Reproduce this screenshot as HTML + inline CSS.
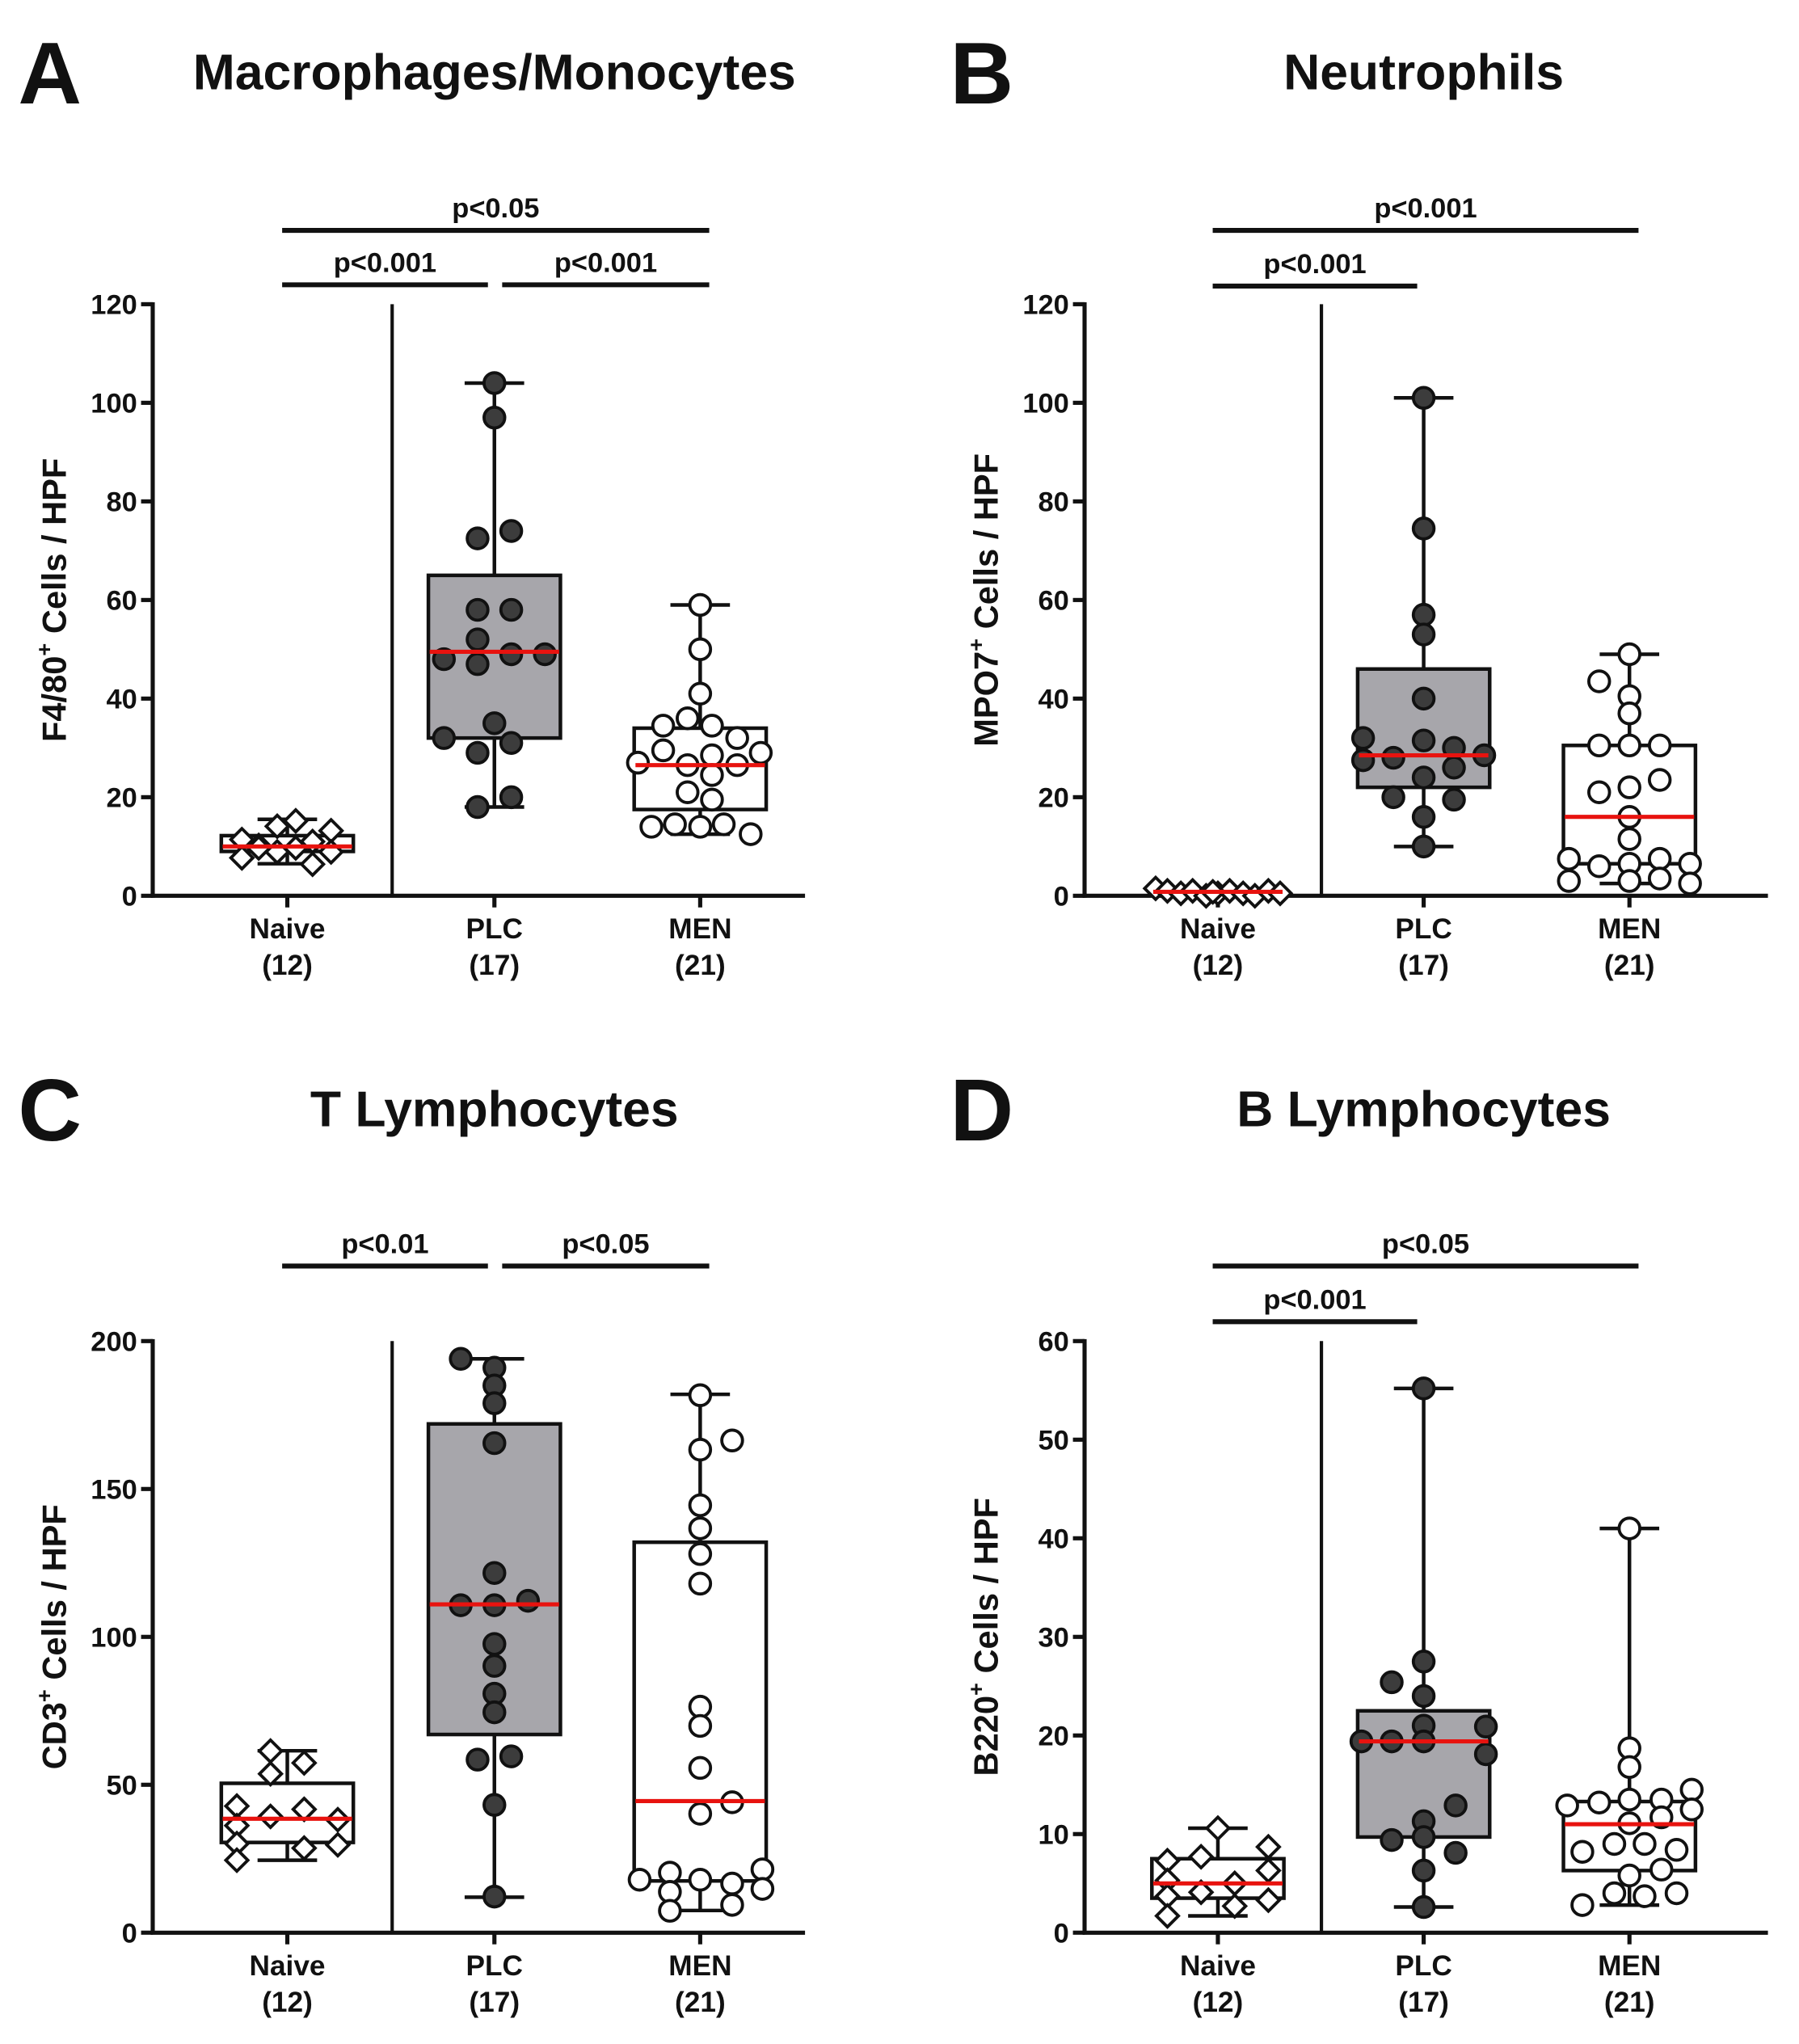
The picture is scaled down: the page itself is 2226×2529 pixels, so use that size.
<!DOCTYPE html>
<html><head><meta charset="utf-8"><style>
html,body{margin:0;padding:0;background:#fff}
svg{display:block}
text{font-family:"Liberation Sans",Arial,sans-serif;font-weight:bold;fill:#111}
</style></head><body>
<svg id="fig" width="2226" height="2529" viewBox="0 0 1390 1579" preserveAspectRatio="none" xmlns="http://www.w3.org/2000/svg"></svg>
<script>
// ---------- DATA ----------
const categories = ["Naive","PLC","MEN"];
const groupN = ["(12)","(17)","(21)"];
// Box stats [min,q1,median,q3,max] per group
const boxA = [[6.5,9,10,12.2,15.5],[18,32,49.5,65,104],[12.5,17.5,26.5,34,59]];
const boxB = [[0,0.3,0.8,1,1.5],[10,22,28.5,46,101],[2.5,6.5,16,30.5,49]];
const boxC = [[24.5,30.5,38.5,50.5,61.5],[12,67,111,172,194],[7.5,17.5,44.5,132,182]];
const boxD = [[1.7,3.5,5,7.5,10.6],[2.6,9.7,19.4,22.5,55.2],[2.8,6.3,11,13.3,41]];
// Points: values and jitter (in jitter units)
const aNaiveV = [15.2,14.1,13.2,11.4,10.2,11,9.7,8.9,8.9,7.7,6.4,9.7];
const aNaiveJ = [0.5,-0.6,2.6,-2.7,-1.7,1.5,0.5,-0.6,2.6,-2.7,1.5,-1.7];
const aPlcV = [104,97,74,72.5,58,58,52,49,49,48,47,35,32,31,29,20,18];
const aPlcJ = [0,0,1,-1,-1,1,-1,1,3,-3,-1,0,-3,1,-1,1,-1];
const aMenV = [59,50,41,36,34.5,34.5,32,29.5,29,28.5,27,26.5,26.5,24.5,21,19.5,14,14.5,14,14.5,12.5];
const aMenJ = [0,0,0,-0.75,-2.2,0.7,2.2,-2.2,3.6,0.7,-3.7,-0.75,2.2,0.7,-0.75,0.7,-2.9,-1.5,0,1.4,3];
const bNaiveV = [1.5,1,0.5,1,0,0.5,1,0.5,0,1,0.5,0.8];
const bNaiveJ = [-3.7,-3,-2.2,-1.5,-0.7,0,0.7,1.5,2.2,3,3.7,-0.3];
const bPlcV = [101,74.5,57,53,40,32,31.5,30,28,28.5,27.5,26,24,20,19.5,16,10];
const bPlcJ = [0,0,0,0,0,-3.6,0,1.8,-1.8,3.6,-3.6,1.8,0,-1.8,1.8,0,0];
const bMenV = [49,43.5,40.5,37,30.5,30.5,30.5,23.5,21,22,16,11.5,7.5,7.5,6,6.5,6.5,3,3,3.5,2.5];
const bMenJ = [0,-1.8,0,0,-1.8,0,1.8,1.8,-1.8,0,0,0,-3.6,1.8,-1.8,0,3.6,-3.6,0,1.8,3.6];
const cNaiveV = [61.4,53.7,57.4,42.8,39.3,41.7,38.2,36.2,30.1,28.6,29.7,24.5];
const cNaiveJ = [-1,-1,1,-3,-1,1,3,-3,-3,1,3,-3];
const cPlcV = [194,191,185,179,165.5,121.6,110.7,110.7,112.2,97.6,90.2,80.8,74.5,58.5,59.6,43.2,12.2];
const cPlcJ = [-2,0,0,0,0,0,-2,0,2,0,0,0,0,-1,1,0,0];
const cMenV = [181.7,163.3,166.4,144.5,136.7,128,118,76.4,69.9,55.7,44.1,40.2,17.9,20.3,17.9,16.6,21.4,13.8,14.8,7.4,9.4];
const cMenJ = [0,0,1.9,0,0,0,0,0,0,0,1.9,0,-3.6,-1.8,0,1.9,3.7,-1.8,3.7,-1.8,1.9];
const dNaiveV = [10.6,8.7,7.7,7.3,6.3,5,5.3,4.1,3.7,2.7,3.3,1.7];
const dNaiveJ = [0,3,-1,-3,3,1,-3,-1,-3,1,3,-3];
const dPlcV = [55.2,27.5,25.4,24,21,20.9,19.4,19.4,19.4,18.1,12.9,11.3,9.4,9.7,8.1,6.3,2.6];
const dPlcJ = [0,0,-1.9,0,0,3.7,-3.7,-1.9,0,3.7,1.9,0,-1.9,0,1.9,0,0];
const dMenV = [41,18.7,16.8,12.9,13.2,13.5,13.5,14.5,12.5,11.7,11.1,8.2,9,9,8.4,5.8,6.4,4,3.7,4,2.8];
const dMenJ = [0,0,0,-3.7,-1.8,0,1.9,3.7,3.7,1.9,0,-2.8,-0.9,0.9,2.8,0,1.9,-0.9,0.9,2.8,-2.8];
const ticksA = [0,20,40,60,80,100,120];
const ticksB = [0,20,40,60,80,100,120];
const ticksC = [0,50,100,150,200];
const ticksD = [0,10,20,30,40,50,60];
const sigA = [["p<0.05",0,2,1],["p<0.001",0,1,0],["p<0.001",1,2,0]];
const sigB = [["p<0.001",0,2,1],["p<0.001",0,1,0]];
const sigC = [["p<0.01",0,1,1],["p<0.05",1,2,1]];
const sigD = [["p<0.05",0,2,1],["p<0.001",0,1,0]];

// ---------- DRAW ----------
const NS="http://www.w3.org/2000/svg";
const svg=document.getElementById('fig');
function mk(tag,attrs,parent){const e=document.createElementNS(NS,tag);for(const k in attrs)e.setAttribute(k,attrs[k]);(parent||svg).appendChild(e);return e;}
function txt(s,attrs,parent){const e=mk('text',attrs,parent);e.textContent=s;return e;}

function panel(cfg){
  const g=mk('g',{});
  
  
  const yS=v=>cfg.yBot-(v/cfg.max)*(cfg.yBot-cfg.yTop);
  const xS=i=>cfg.cats[i];
  const JU=13;
  const L=txt(cfg.letter,{x:cfg.ax0-104,y:cfg.titleY+11,'font-size':68,'text-anchor':'start'},g);
  
  
  const T=txt(cfg.title,{x:cfg.cats[1],y:cfg.titleY,'font-size':39,'text-anchor':'middle'},g);
  
  
  const ya=mk('line',{x1:cfg.ax0,y1:cfg.yTop-1.5,x2:cfg.ax0,y2:cfg.yBot+1.5,stroke:'#111','stroke-width':3.2},g);
  
  
  cfg.ticks.forEach(t=>{
    const tl=mk('line',{x1:cfg.ax0-9,y1:yS(t),x2:cfg.ax0,y2:yS(t),stroke:'#111','stroke-width':3.2},g);
    
    
    const tt=txt(String(t),{x:cfg.ax0-12,y:yS(t)+7.5,'font-size':21.5,'text-anchor':'end'},g);
    
    
  });
  const xa=mk('line',{x1:cfg.ax0-1.5,y1:cfg.yBot,x2:cfg.xEnd,y2:cfg.yBot,stroke:'#111','stroke-width':3.2},g);
  
  
  const dv=mk('line',{x1:cfg.div,y1:cfg.yTop,x2:cfg.div,y2:cfg.yBot,stroke:'#111','stroke-width':2.6},g);
  
  
  const yt=txt('',{x:0,y:0,'font-size':26,'text-anchor':'middle',transform:`translate(${cfg.ax0-67},${(cfg.yTop+cfg.yBot)/2}) rotate(-90)`},g);
  
  
  const t1=mk('tspan',{},yt);t1.textContent=cfg.ylab;
  const t2=mk('tspan',{dy:-11,'font-size':17},yt);t2.textContent='+';
  const t3=mk('tspan',{dy:11},yt);t3.textContent=' Cells / HPF';
  categories.forEach((c,i)=>{
    const tk=mk('line',{x1:xS(i),y1:cfg.yBot,x2:xS(i),y2:cfg.yBot+9,stroke:'#111','stroke-width':3.2},g);
    
    
    const a=txt(c,{x:xS(i),y:cfg.yBot+33,'font-size':22,'text-anchor':'middle'},g);
    
    
    const b=txt(groupN[i],{x:xS(i),y:cfg.yBot+61,'font-size':22,'text-anchor':'middle'},g);
    
    
  });
  cfg.sig.forEach(s=>{
    const y=s[3]?cfg.sigY1:cfg.sigY0;
    const xa1=xS(s[1])-4+(s[1]===1?10:0), xa2=xS(s[2])+ (s[2]===1?-5:7);
    const ln=mk('line',{x1:xa1,y1:y,x2:xa2,y2:y,stroke:'#111','stroke-width':3.8},g);
    
    
    const st=txt(s[0],{x:(xa1+xa2)/2,y:y-10,'font-size':21.5,'text-anchor':'middle'},g);
    
    
  });
  const fills=['#fff','#a7a6ab','#fff'];
  cfg.box.forEach((b,i)=>{
    const cx=xS(i),hw=51,cw=23;
    const wl=mk('line',{x1:cx,y1:yS(b[4]),x2:cx,y2:yS(b[0]),stroke:'#111','stroke-width':2.8},g);
    
    
    [b[0],b[4]].forEach(v=>{
      const cp=mk('line',{x1:cx-cw,y1:yS(v),x2:cx+cw,y2:yS(v),stroke:'#111','stroke-width':2.8},g);
      
      
    });
    const r=mk('rect',{x:cx-hw,y:yS(b[3]),width:2*hw,height:yS(b[1])-yS(b[3]),fill:fills[i],stroke:'#111','stroke-width':2.8},g);
    
    
  });
  cfg.pts.forEach((p,i)=>{
    const cx=xS(i);
    p[0].forEach((v,k)=>{
      const x=cx+p[1][k]*JU,y=yS(v);
      let e;
      if(i===0){
        e=mk('polygon',{points:`${x},${y-8.5} ${x+8.5},${y} ${x},${y+8.5} ${x-8.5},${y}`,fill:'#fff',stroke:'#111','stroke-width':2.4},g);
      }else{
        e=mk('circle',{cx:x,cy:y,r:8,fill:i===1?'#3c3c3c':'#fff',stroke:'#111','stroke-width':2.4},g);
      }
      
      
    });
  });
  cfg.box.forEach((b,i)=>{
    const m=mk('line',{x1:xS(i)-50,y1:yS(b[2]),x2:xS(i)+50,y2:yS(b[2]),stroke:'#e8130f','stroke-width':3.2},g);
    
    
  });
}
const L1={ax0:118,div:303,xEnd:622,cats:[222,382,541]};
const L2={ax0:838,div:1021,xEnd:1366,cats:[941,1100,1259]};
panel(Object.assign({},L1,{letter:'A',title:'Macrophages/Monocytes',titleY:69,yTop:235,yBot:692,max:120,ticks:ticksA,ylab:'F4/80',sig:sigA,sigY0:220,sigY1:178,box:boxA,pts:[[aNaiveV,aNaiveJ],[aPlcV,aPlcJ],[aMenV,aMenJ]]}));
panel(Object.assign({},L2,{letter:'B',title:'Neutrophils',titleY:69,yTop:235,yBot:692,max:120,ticks:ticksB,ylab:'MPO7',sig:sigB,sigY0:221,sigY1:178,box:boxB,pts:[[bNaiveV,bNaiveJ],[bPlcV,bPlcJ],[bMenV,bMenJ]]}));
panel(Object.assign({},L1,{letter:'C',title:'T Lymphocytes',titleY:870,yTop:1036,yBot:1493,max:200,ticks:ticksC,ylab:'CD3',sig:sigC,sigY0:978,sigY1:978,box:boxC,pts:[[cNaiveV,cNaiveJ],[cPlcV,cPlcJ],[cMenV,cMenJ]]}));
panel(Object.assign({},L2,{letter:'D',title:'B Lymphocytes',titleY:870,yTop:1036,yBot:1493,max:60,ticks:ticksD,ylab:'B220',sig:sigD,sigY0:1021,sigY1:978,box:boxD,pts:[[dNaiveV,dNaiveJ],[dPlcV,dPlcJ],[dMenV,dMenJ]]}));
</script>
</body></html>
